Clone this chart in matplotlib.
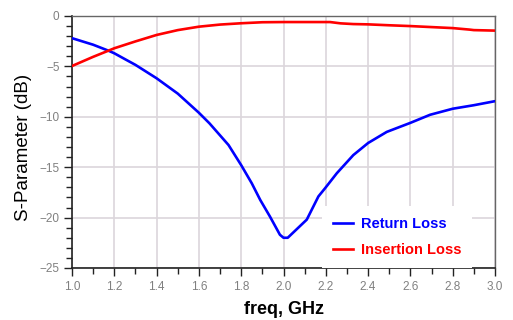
import matplotlib.pyplot as plt
from matplotlib.ticker import MultipleLocator

### Data

freq_rl = [1.0, 1.1, 1.172, 1.2, 1.258, 1.3, 1.4, 1.5, 1.6, 1.65, 1.74,
           1.8, 1.85, 1.89, 1.936, 1.983, 2.0, 2.02, 2.06, 2.11, 2.165, 2.196,
           2.252, 2.33, 2.4, 2.488, 2.6, 2.693, 2.8, 2.9, 3.0]
return_loss = [-2.2, -2.85, -3.44, -3.7, -4.37, -4.85, -6.18, -7.7,
               -9.6, -10.65, -12.8, -14.8, -16.6, -18.25, -19.9, -21.7, -22.0,
               -22.0, -21.2, -20.2, -17.9, -17.1, -15.6, -13.8, -12.6, -11.5,
               -10.6, -9.8, -9.2, -8.85, -8.45]

freq_il = [1.0, 1.1, 1.172, 1.2, 1.3, 1.4, 1.5, 1.6, 1.7, 1.8, 1.9, 2.0, 2.1,
           2.2, 2.22, 2.27, 2.33, 2.4, 2.5, 2.6, 2.7, 2.8, 2.88, 2.9, 3.0]
insertion_loss = [-4.96, -4.05, -3.44, -3.2, -2.52, -1.88, -1.4, -1.06, -0.85,
                  -0.72, -0.62, -0.6, -0.6, -0.6, -0.6, -0.73, -0.8, -0.83,
                  -0.92, -1.0, -1.1, -1.2, -1.35, -1.4, -1.45]

### Figure

fig = plt.figure(figsize=(5.13, 3.2), dpi=100)
ax = fig.add_axes([0.1404, 0.1625, 0.8245, 0.7875])

ax.plot(freq_rl, return_loss, color='#0000ff', lw=1.9, label='Return Loss', zorder=3)
ax.plot(freq_il, insertion_loss, color='#ff0000', lw=1.9, label='Insertion Loss', zorder=3)

ax.set_xlim(1.0, 3.0)
ax.set_ylim(-25, 0)

ax.xaxis.set_major_locator(MultipleLocator(0.2))
ax.xaxis.set_minor_locator(MultipleLocator(0.1))
ax.yaxis.set_major_locator(MultipleLocator(5))
ax.yaxis.set_minor_locator(MultipleLocator(1))

ax.grid(True, which='major', color='#dcd6dc', lw=1.2, zorder=0)
ax.set_axisbelow(True)

ax.tick_params(which='both', direction='out', top=False, right=False,
               color='#222222', width=1.0)
ax.tick_params(which='major', length=6, labelsize=8.5, labelcolor='#808080', pad=3)
ax.tick_params(which='minor', length=4)
for lab in ax.get_xticklabels() + ax.get_yticklabels():
    lab.set_family('Liberation Sans')

for side in ('left', 'bottom'):
    ax.spines[side].set_color('#222222')
    ax.spines[side].set_linewidth(1.2)
for side in ('top', 'right'):
    ax.spines[side].set_color('#666666')
    ax.spines[side].set_linewidth(1.0)

ax.set_xlabel('freq, GHz', family='Liberation Sans', weight='bold', size=13,
              labelpad=6)
ax.set_ylabel('S-Parameter (dB)', family='Liberation Sans', size=13.5)
ax.yaxis.set_label_coords(-0.095, 0.48)

leg = ax.legend(loc='lower right', bbox_to_anchor=(0.946, 0.0), frameon=True,
                facecolor='white', edgecolor='none', framealpha=1,
                fancybox=False, handlelength=1.4, handletextpad=0.5,
                borderaxespad=0.0, borderpad=0.75, labelspacing=0.85,
                prop={'family': 'Liberation Sans', 'weight': 'bold', 'size': 10.5})
for text, line in zip(leg.get_texts(), leg.get_lines()):
    text.set_color(line.get_color())

fig.savefig('out.png', dpi=100)
plt.close(fig)
